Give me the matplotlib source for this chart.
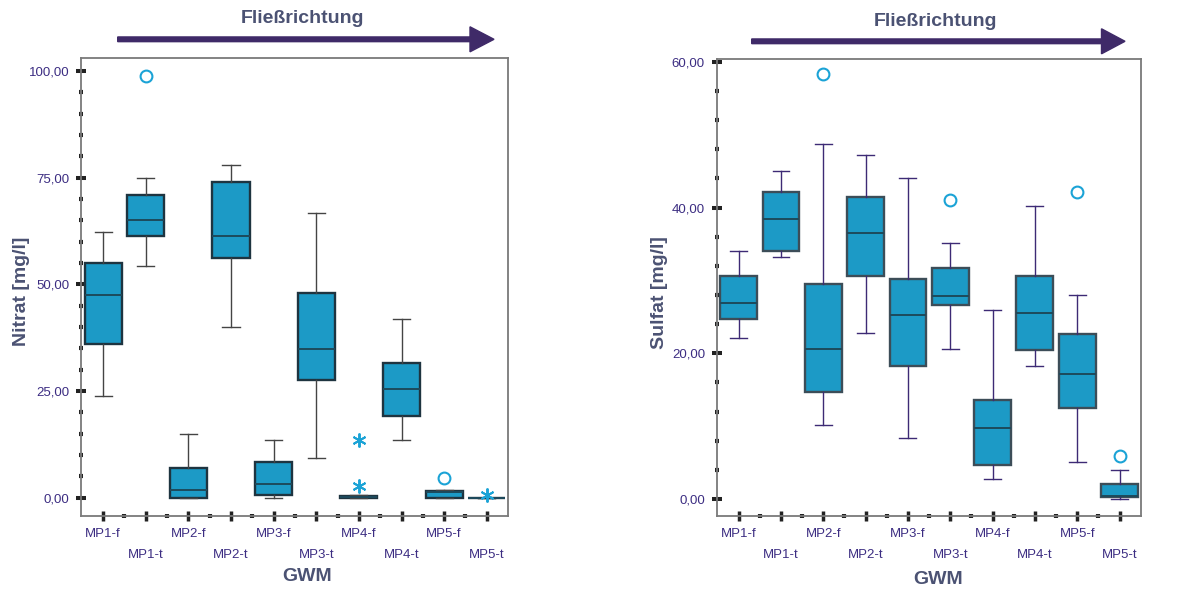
import matplotlib
matplotlib.use("Agg")
import matplotlib.pyplot as plt
from matplotlib.patches import FancyArrow
from matplotlib.ticker import FixedLocator, MultipleLocator, FuncFormatter

plt.rcParams["font.family"] = ["Liberation Sans", "DejaVu Sans"]

# Messstellen (Grundwassermessstellen), in Fließrichtung geordnet
categories = ["MP1-f", "MP1-t", "MP2-f", "MP2-t", "MP3-f",
              "MP3-t", "MP4-f", "MP4-t", "MP5-f", "MP5-t"]

# Nitrat [mg/l]: Boxplot-Kennwerte je Messstelle
nit_whislo = [23.7, 54.2, 0.0, 40.0, 0.0, 9.2, 0.0, 13.6, 0.0, 0.0]
nit_q1     = [36.1, 61.3, 0.0, 56.2, 0.7, 27.5, 0.0, 19.2, 0.0, 0.0]
nit_med    = [47.5, 65.0, 1.7, 61.3, 3.2, 34.8, 0.2, 25.5, 1.4, 0.0]
nit_q3     = [55.0, 71.0, 7.0, 73.9, 8.4, 47.9, 0.4, 31.6, 1.5, 0.0]
nit_whishi = [62.2, 75.0, 14.8, 78.0, 13.6, 66.8, 0.6, 41.9, 1.8, 0.0]
nit_out_idx = [1, 8]            # Ausreißer (Kreis)
nit_out_val = [98.8, 4.7]
nit_ext_idx = [6, 6, 9]         # Extremwerte (Stern)
nit_ext_val = [13.5, 2.7, 0.6]

# Sulfat [mg/l]: Boxplot-Kennwerte je Messstelle
sul_whislo = [22.1, 33.2, 10.1, 22.8, 8.4, 20.6, 2.7, 18.2, 5.1, 0.0]
sul_q1     = [24.7, 34.1, 14.7, 30.6, 18.2, 26.7, 4.7, 20.4, 12.5, 0.3]
sul_med    = [26.9, 38.5, 20.6, 36.5, 25.2, 27.9, 9.7, 25.6, 17.1, 0.4]
sul_q3     = [30.6, 42.2, 29.5, 41.5, 30.2, 31.7, 13.6, 30.6, 22.6, 2.1]
sul_whishi = [34.1, 45.0, 48.7, 47.2, 44.1, 35.2, 26.0, 40.2, 28.0, 4.0]
sul_out_idx = [2, 5, 8, 9]
sul_out_val = [58.4, 41.1, 42.2, 5.9]
sul_ext_idx = []
sul_ext_val = []

BOX_FILL = "#1c9ac6"
FLIER = "#1ba3d6"
TICKLBL = "#3c2d82"
LABEL = "#4b5273"
ARROW = "#3f2a68"
SPINE = "#7a7a7a"
TICKMARK = "#222222"


def comma_fmt(v, _pos):
    return f"{v:.2f}".replace(".", ",")


def draw_panel(ax, whislo, q1, med, q3, whishi, out_idx, out_val,
               ext_idx, ext_val, ylim, major, minor, ylabel,
               box_edge, whisker_col, ylabel_x, xlabel_xy):
    stats = []
    for i, name in enumerate(categories):
        stats.append(dict(label=name, whislo=whislo[i], q1=q1[i],
                          med=med[i], q3=q3[i], whishi=whishi[i],
                          fliers=[]))
    pos = list(range(len(categories)))
    ax.bxp(stats, positions=pos, widths=0.87, capwidths=0.4,
           showfliers=False, patch_artist=True,
           boxprops=dict(facecolor=BOX_FILL, edgecolor=box_edge, linewidth=1.7),
           medianprops=dict(color="#1d4a5c", linewidth=1.4),
           whiskerprops=dict(color=whisker_col, linewidth=1.0),
           capprops=dict(color=whisker_col, linewidth=1.0))
    ax.plot(out_idx, out_val, linestyle="none", marker="o", markersize=8.5,
            markerfacecolor="none", markeredgecolor=FLIER,
            markeredgewidth=1.5, zorder=5)
    if ext_idx:
        ax.plot(ext_idx, ext_val, linestyle="none", marker=(6, 2, 0),
                markersize=10, markeredgecolor=FLIER, markeredgewidth=1.4,
                zorder=5)

    ax.set_xlim(-0.52, 9.5)
    ax.set_ylim(*ylim)

    ax.yaxis.set_major_locator(MultipleLocator(major))
    ax.yaxis.set_minor_locator(MultipleLocator(minor))
    ax.yaxis.set_major_formatter(FuncFormatter(comma_fmt))
    ax.xaxis.set_major_locator(FixedLocator(pos))
    ax.xaxis.set_minor_locator(FixedLocator([p + 0.5 for p in pos[:-1]]))
    ax.set_xticks(pos)
    ax.set_xticklabels(categories)

    ax.tick_params(axis="y", which="major", direction="inout", length=6.5,
                   width=2.9, color=TICKMARK, labelsize=9.5,
                   labelcolor=TICKLBL, pad=5.2)
    ax.tick_params(axis="y", which="minor", direction="inout", length=3.2,
                   width=3.0, color=TICKMARK)
    ax.tick_params(axis="x", which="major", direction="inout", length=7,
                   width=2.5, color=TICKMARK, labelsize=9.5,
                   labelcolor=TICKLBL)
    ax.tick_params(axis="x", which="minor", direction="inout", length=3.2,
                   width=3.0, color=TICKMARK)
    for i, t in enumerate(ax.xaxis.get_major_ticks()):
        t.set_pad(5.5 if i % 2 == 0 else 20.0)

    for sp in ax.spines.values():
        sp.set_color(SPINE)
        sp.set_linewidth(1.3)

    ax.set_ylabel(ylabel, fontsize=14, fontweight="bold", color=LABEL)
    ax.yaxis.set_label_coords(ylabel_x, 0.49)
    ax.yaxis.label.set_va("center")
    ax.set_xlabel("GWM", fontsize=14, fontweight="bold", color=LABEL)
    ax.xaxis.set_label_coords(*xlabel_xy)
    ax.xaxis.label.set_va("center")


fig = plt.figure(figsize=(11.84, 5.92), dpi=100)
ax1 = fig.add_axes([0.0684, 0.1284, 0.3607, 0.7736])
ax2 = fig.add_axes([0.6053, 0.1284, 0.3581, 0.7719])

draw_panel(ax1, nit_whislo, nit_q1, nit_med, nit_q3, nit_whishi,
           nit_out_idx, nit_out_val, nit_ext_idx, nit_ext_val,
           (-4.3, 103.0), 25, 5, "Nitrat [mg/l]", "#1e3440", "#444444",
           -0.14, (0.5286, -0.133))
draw_panel(ax2, sul_whislo, sul_q1, sul_med, sul_q3, sul_whishi,
           sul_out_idx, sul_out_val, sul_ext_idx, sul_ext_val,
           (-2.33, 60.4), 20, 4, "Sulfat [mg/l]", "#3c4d58", "#3d2a75",
           -0.136, (0.5226, -0.1385))

# Fließrichtungspfeile über beiden Diagrammen (in Zoll-Koordinaten)
for x0, x1, y, hl, tx, ty in [(1.177, 4.94, 5.527, 0.24, 0.2559, 0.968),
                              (7.517, 11.25, 5.507, 0.235, 0.7905, 0.9645)]:
    fig.patches.append(FancyArrow(x0, y, x1 - x0, 0, width=0.047,
                                  head_width=0.25, head_length=hl,
                                  length_includes_head=True, color=ARROW,
                                  transform=fig.dpi_scale_trans, figure=fig))
    fig.text(tx, ty, "Fließrichtung", ha="center", va="center",
             fontsize=14, fontweight="bold", color=LABEL)

fig.savefig("out.png", dpi=100)
